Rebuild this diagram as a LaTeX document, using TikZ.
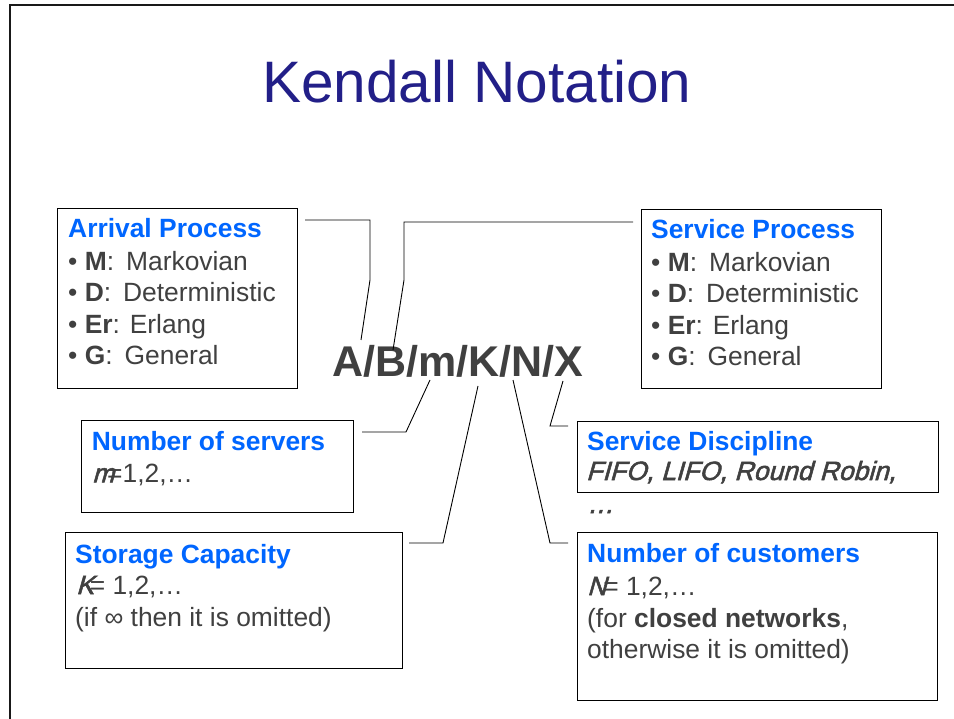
\documentclass[tikz,border=0pt]{standalone}
\usepackage{fontspec}
\setmainfont{Liberation Sans}
% heavy slanted face for the variable names and the discipline list
\newfontfamily\obliq{Liberation Sans}[FakeSlant=0.28, FakeBold=2]
\definecolor{titleblue}{RGB}{34,31,136}
\definecolor{headblue}{RGB}{0,102,255}
\definecolor{bodygray}{RGB}{64,64,64}
\tikzset{
  frame/.style={draw=black, line width=1.3pt, inner sep=0pt, anchor=north west},
  head/.style={anchor=base west, inner sep=0pt, text=headblue, font=\fontsize{26.4}{31}\selectfont\bfseries},
  body/.style={anchor=base west, inner sep=0pt, text=bodygray, font=\fontsize{26.4}{31}\selectfont},
  link/.style={draw=black, line width=0.9pt, line join=miter},
}
\begin{document}
\begin{tikzpicture}[x=1pt,y=-1pt]
\useasboundingbox (0,0) rectangle (954,719);
\fill[white] (0,0) rectangle (954,719);

% slide frame
\draw[line width=2pt, color=black!90] (10,719) -- (10,5.5) -- (954,5.5);

% title
\node[anchor=base, inner sep=0pt, font=\fontsize{58.5}{70}\selectfont, text=titleblue] (title) at (477,102.5) {Kendall Notation};

% the notation itself
\node[anchor=base west, inner sep=0pt, font=\fontsize{43}{50}\selectfont\bfseries, text=bodygray] (kend) at (332,377) {A/B/m/K/N/X};

% Arrival process
\node[frame, minimum width=240pt, minimum height=180pt] (arrbox) at (57,208) {};
\node[head] (arrT) at (68,238) {Arrival Process};
\node[body] (arr1) at (68,270.5) {• \textbf{M}:\hspace{12pt}Markovian};
\node[body] (arr2) at (68,302) {• \textbf{D}:\hspace{12pt}Deterministic};
\node[body] (arr3) at (68,333.3) {• \textbf{Er}: Erlang};
\node[body] (arr4) at (68,365) {• \textbf{G}:\hspace{12pt}General};

% Service process
\node[frame, minimum width=240pt, minimum height=179pt] (srvbox) at (641,209) {};
\node[head] (srvT) at (651,239) {Service Process};
\node[body] (srv1) at (651,271.5) {• \textbf{M}:\hspace{12pt}Markovian};
\node[body] (srv2) at (651,303) {• \textbf{D}:\hspace{12pt}Deterministic};
\node[body] (srv3) at (651,334.3) {• \textbf{Er}: Erlang};
\node[body] (srv4) at (651,366) {• \textbf{G}:\hspace{12pt}General};

% Number of servers
\node[frame, minimum width=272pt, minimum height=92pt] (mbox) at (81,420) {};
\node[head] (mT) at (91.7,450) {Number of servers};
\node[body] (m1) at (92,482.3) {{\obliq m}\kern-7pt=1,2,…};

% Storage capacity
\node[frame, minimum width=337pt, minimum height=136pt] (kbox) at (65,532) {};
\node[head] (kT) at (75,563) {Storage Capacity};
\node[body] (k1) at (76,594) {{\obliq K}\kern-4pt= 1,2,…};
\node[body] (k2) at (75,626) {(if ∞ then it is omitted)};

% Service discipline
\node[frame, minimum width=361pt, minimum height=71pt] (xbox) at (577,421) {};
\node[head] (xT) at (587,450) {Service Discipline};
\node[body] (x1) at (586,480) {\obliq FIFO, LIFO, Round Robin,};
\node[body] (x2) at (587,513) {\obliq …};

% Number of customers
\node[frame, minimum width=360pt, minimum height=168pt] (nbox) at (577,532) {};
\node[head] (nT) at (587,562) {Number of customers};
\node[body] (n1) at (587,595) {{\obliq N}\kern-3pt= 1,2,…};
\node[body] (n2) at (587,627) {(for \textbf{closed networks},};
\node[body] (n3) at (587,658) {otherwise it is omitted)};

% connector end points
\coordinate (aS) at (305,220);   \coordinate (aE) at (361,340);
\coordinate (bS) at (633,222);   \coordinate (bE) at (393,350);
\coordinate (mS) at (430,380);   \coordinate (mE) at (362,432);
\coordinate (kS) at (478,386);   \coordinate (kE) at (409,543);
\coordinate (nS) at (513,380);   \coordinate (nE) at (568,543);
\coordinate (xS) at (563,381);   \coordinate (xE) at (568,426);

% connectors
\draw[link] (aS) -- (370,220) -- (370,280) -- (aE);
\draw[link] (bS) -- (404,222) -- (404,280) -- (bE);
\draw[link] (mS) -- (406,432) -- (mE);
\draw[link] (kS) -- (443,543) -- (kE);
\draw[link] (nS) -- (550,543) -- (nE);
\draw[link] (xS) -- (550,426) -- (xE);
\end{tikzpicture}
\end{document}
